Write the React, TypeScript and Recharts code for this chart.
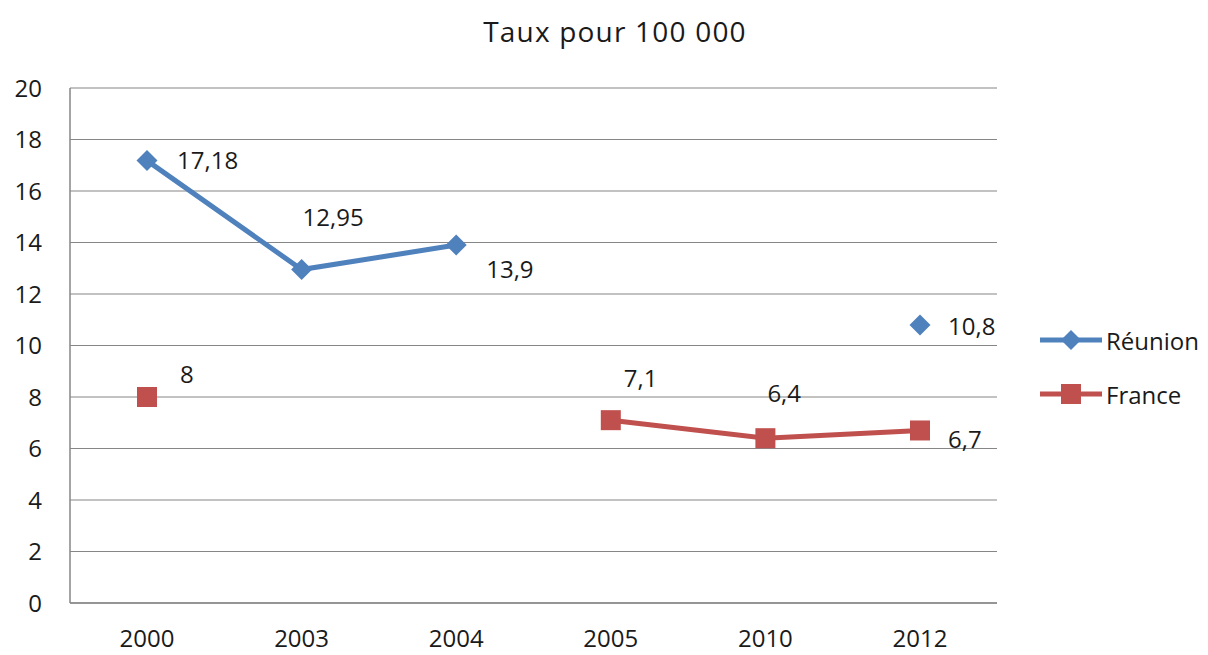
import React from 'react';
import { LineChart, Line, XAxis, YAxis, CartesianGrid, LabelList } from 'recharts';

const years = ['2000', '2003', '2004', '2005', '2010', '2012'];
const reunion = [17.18, 12.95, 13.9, null, null, 10.8];
const france = [8, null, null, 7.1, 6.4, 6.7];
const yTicks = [0, 2, 4, 6, 8, 10, 12, 14, 16, 18, 20];

const BLUE = '#4F81BD';
const RED = '#C0504D';
const TEXT = '#1a1a1a';
const FONT = '"Open Sans", "Noto Sans", sans-serif';

const data = years.map((year, i) => ({ year, reunion: reunion[i], france: france[i] }));

// label offsets (text start relative to the point), per series and index
const reunionLabelOffsets = [[30, 0], [1, -52], [30, 25], [0, 0], [0, 0], [28, 2]];
const franceLabelOffsets = [[33, -22], [0, 0], [0, 0], [13, -42], [2, -45], [28, 9]];

const fmt = (v: number) => String(v).replace('.', ',');

const Diamond = (props: any) => {
  const { cx, cy, value } = props;
  if (value == null || cx == null) return null;
  const r = 10.5;
  return <path d={`M${cx},${cy - r}L${cx + r},${cy}L${cx},${cy + r}L${cx - r},${cy}Z`} fill={BLUE} />;
};

const Square = (props: any) => {
  const { cx, cy, value } = props;
  if (value == null || cx == null) return null;
  const s = 10;
  return <rect x={cx - s} y={cy - s} width={s * 2} height={s * 2} fill={RED} />;
};

const makeLabel = (offsets: number[][]) => (props: any) => {
  const { x, y, value, index } = props;
  if (value == null) return null;
  const [dx, dy] = offsets[index];
  return (
    <text x={x + dx} y={y + dy} dy="0.35em" fontSize={24} fontFamily={FONT} fill={TEXT} textAnchor="start">
      {fmt(value)}
    </text>
  );
};

const LegendBlock = () => (
  <div style={{ position: 'absolute', left: 1038, top: 323, fontFamily: FONT, fontSize: 24, color: TEXT }}>
    <div style={{ display: 'flex', alignItems: 'center', height: 34, marginBottom: 20 }}>
      <svg width={66} height={24}>
        <line x1={2} y1={12} x2={64} y2={12} stroke={BLUE} strokeWidth={5} />
        <path d="M33,2L43,12L33,22L23,12Z" fill={BLUE} />
      </svg>
      <span style={{ marginLeft: 2 }}>Réunion</span>
    </div>
    <div style={{ display: 'flex', alignItems: 'center', height: 34 }}>
      <svg width={66} height={24}>
        <line x1={2} y1={12} x2={64} y2={12} stroke={RED} strokeWidth={5} />
        <rect x={23} y={2} width={20} height={20} fill={RED} />
      </svg>
      <span style={{ marginLeft: 2 }}>France</span>
    </div>
  </div>
);

export default function App() {
  return (
    <div style={{ position: 'absolute', left: 0, top: 0, width: 1208, height: 655, background: '#fff' }}>
      <div style={{ position: 'absolute', top: 12, left: 0, width: 1230, textAlign: 'center', fontFamily: FONT, fontSize: 28, letterSpacing: 1.2, color: TEXT }}>
        Taux pour 100 000
      </div>
      <LineChart width={1208} height={655} data={data} margin={{ top: 88, right: 211, bottom: 0, left: 10 }}>
        <CartesianGrid vertical={false} stroke="#868686" strokeWidth={1.2} />
        <XAxis
          dataKey="year"
          padding={{ left: 77, right: 77 }}
          stroke="#868686"
          strokeWidth={1.5}
          tickLine={false}
          tickSize={0}
          tickMargin={27}
          tick={{ fill: TEXT, fontSize: 24, fontFamily: FONT }}
          height={52}
        />
        <YAxis
          domain={[0, 20]}
          ticks={yTicks}
          interval={0}
          width={60}
          stroke="#868686"
          strokeWidth={1.5}
          tickLine={false}
          tickSize={0}
          tickMargin={28}
          tick={{ fill: TEXT, fontSize: 24, fontFamily: FONT }}
        />
        <Line
          dataKey="reunion"
          name="Réunion"
          stroke={BLUE}
          strokeWidth={5}
          dot={<Diamond />}
          activeDot={false}
          connectNulls={false}
          isAnimationActive={false}
        >
          <LabelList dataKey="reunion" content={makeLabel(reunionLabelOffsets)} />
        </Line>
        <Line
          dataKey="france"
          name="France"
          stroke={RED}
          strokeWidth={5}
          dot={<Square />}
          activeDot={false}
          connectNulls={false}
          isAnimationActive={false}
        >
          <LabelList dataKey="france" content={makeLabel(franceLabelOffsets)} />
        </Line>
      </LineChart>
      <LegendBlock />
    </div>
  );
}
